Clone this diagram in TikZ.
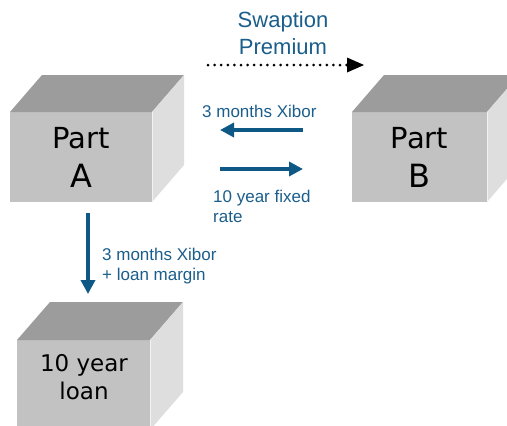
\documentclass[tikz,border=0pt]{standalone}
\usepackage{fontspec}
\setmainfont{Liberation Sans}
\newfontfamily\boxfont{DejaVu Sans}
\usetikzlibrary{arrows.meta}
\definecolor{frontgray}{HTML}{C2C2C2}
\definecolor{topgray}{HTML}{9C9C9C}
\definecolor{sidegray}{HTML}{DEDEDE}
\definecolor{flowblue}{HTML}{0E5886}
\definecolor{textblue}{HTML}{1B5E8C}
\newcommand\cubefaces[3]{%
  \fill[topgray] (#1.north west) -- ([shift={(#2,-#3)}]#1.north west) -- ([shift={(#2,-#3)}]#1.north east) -- (#1.north east) -- cycle;
  \fill[sidegray] (#1.north east) -- ([shift={(#2,-#3)}]#1.north east) -- ([shift={(#2,-#3)}]#1.south east) -- (#1.south east) -- cycle;
  \draw[white!90!gray, line width=1pt] ([xshift=0.5pt]#1.north east) -- ([xshift=0.5pt]#1.south east);}
\begin{document}
\begin{tikzpicture}[x=1pt,y=-1pt,
  front/.style={fill=frontgray, inner sep=0pt, outer sep=0pt, align=center, text=black},
  boxtext/.style={inner sep=0pt, align=center, text=black},
  bluetext/.style={inner sep=0pt, text=textblue, font=\fontsize{17}{20}\selectfont},
  flow/.style={draw=flowblue, line width=4pt, -{Triangle[length=14pt,width=14pt]}},
  dotflow/.style={draw=black, line width=3pt, line cap=round, dash pattern=on 0pt off 6.6pt, -{Triangle[length=17pt,width=15pt,line width=0pt]}}]
\useasboundingbox (0,0) rectangle (507,426);
\clip (0,0) rectangle (507,426);
\fill[white] (0,0) rectangle (507,426);

% cubes
\node[front, minimum width=142pt, minimum height=90pt, font=\boxfont\fontsize{29}{39}\selectfont] (A) at (81,157) {Part\\{\fontsize{32}{39}\selectfont A}};
\cubefaces{A}{32}{37}
\node[front, minimum width=135pt, minimum height=90pt, font=\boxfont\fontsize{29}{39}\selectfont] (B) at (419.5,157) {Part\\{\fontsize{32}{39}\selectfont B}};
\cubefaces{B}{32}{37}
\node[front, minimum width=133pt, minimum height=90pt] (loan) at (83.5,385) {};
\cubefaces{loan}{33}{38}
\node[boxtext, font=\boxfont\fontsize{23}{28}\selectfont] (loantext) at (84,377.5) {10 year\\loan};

% premium
\coordinate (premstart) at (208,65);
\coordinate (premend) at (364,65);
\draw[dotflow] (premstart) -- (premend);
\node[inner sep=0pt, text=textblue, align=center, font=\fontsize{22}{27}\selectfont] (premium) at (283,33.5) {Swaption\\Premium};

% swap flows
\draw[flow, shorten <=49pt, shorten >=68pt] ([shift={(0,-27)}]B.west) -- ([shift={(0,-27)}]A.east);
\draw[flow, shorten <=68pt, shorten >=49pt] ([shift={(0,12)}]A.east) -- ([shift={(0,12)}]B.west);
\node[bluetext, anchor=base west] (xibor) at (202,117) {3 months Xibor};
\node[bluetext, anchor=north west, align=left] (fixed) at (213,190) {10 year fixed\\rate};

% loan flow
\draw[flow, shorten <=11pt, shorten >=46pt] ([xshift=7pt]A.south) -- ([xshift=7pt]A.south |- loan.north);
\node[bluetext, anchor=north west, align=left] (margin) at (102,248) {3 months Xibor\\+ loan margin};
\end{tikzpicture}
\end{document}
